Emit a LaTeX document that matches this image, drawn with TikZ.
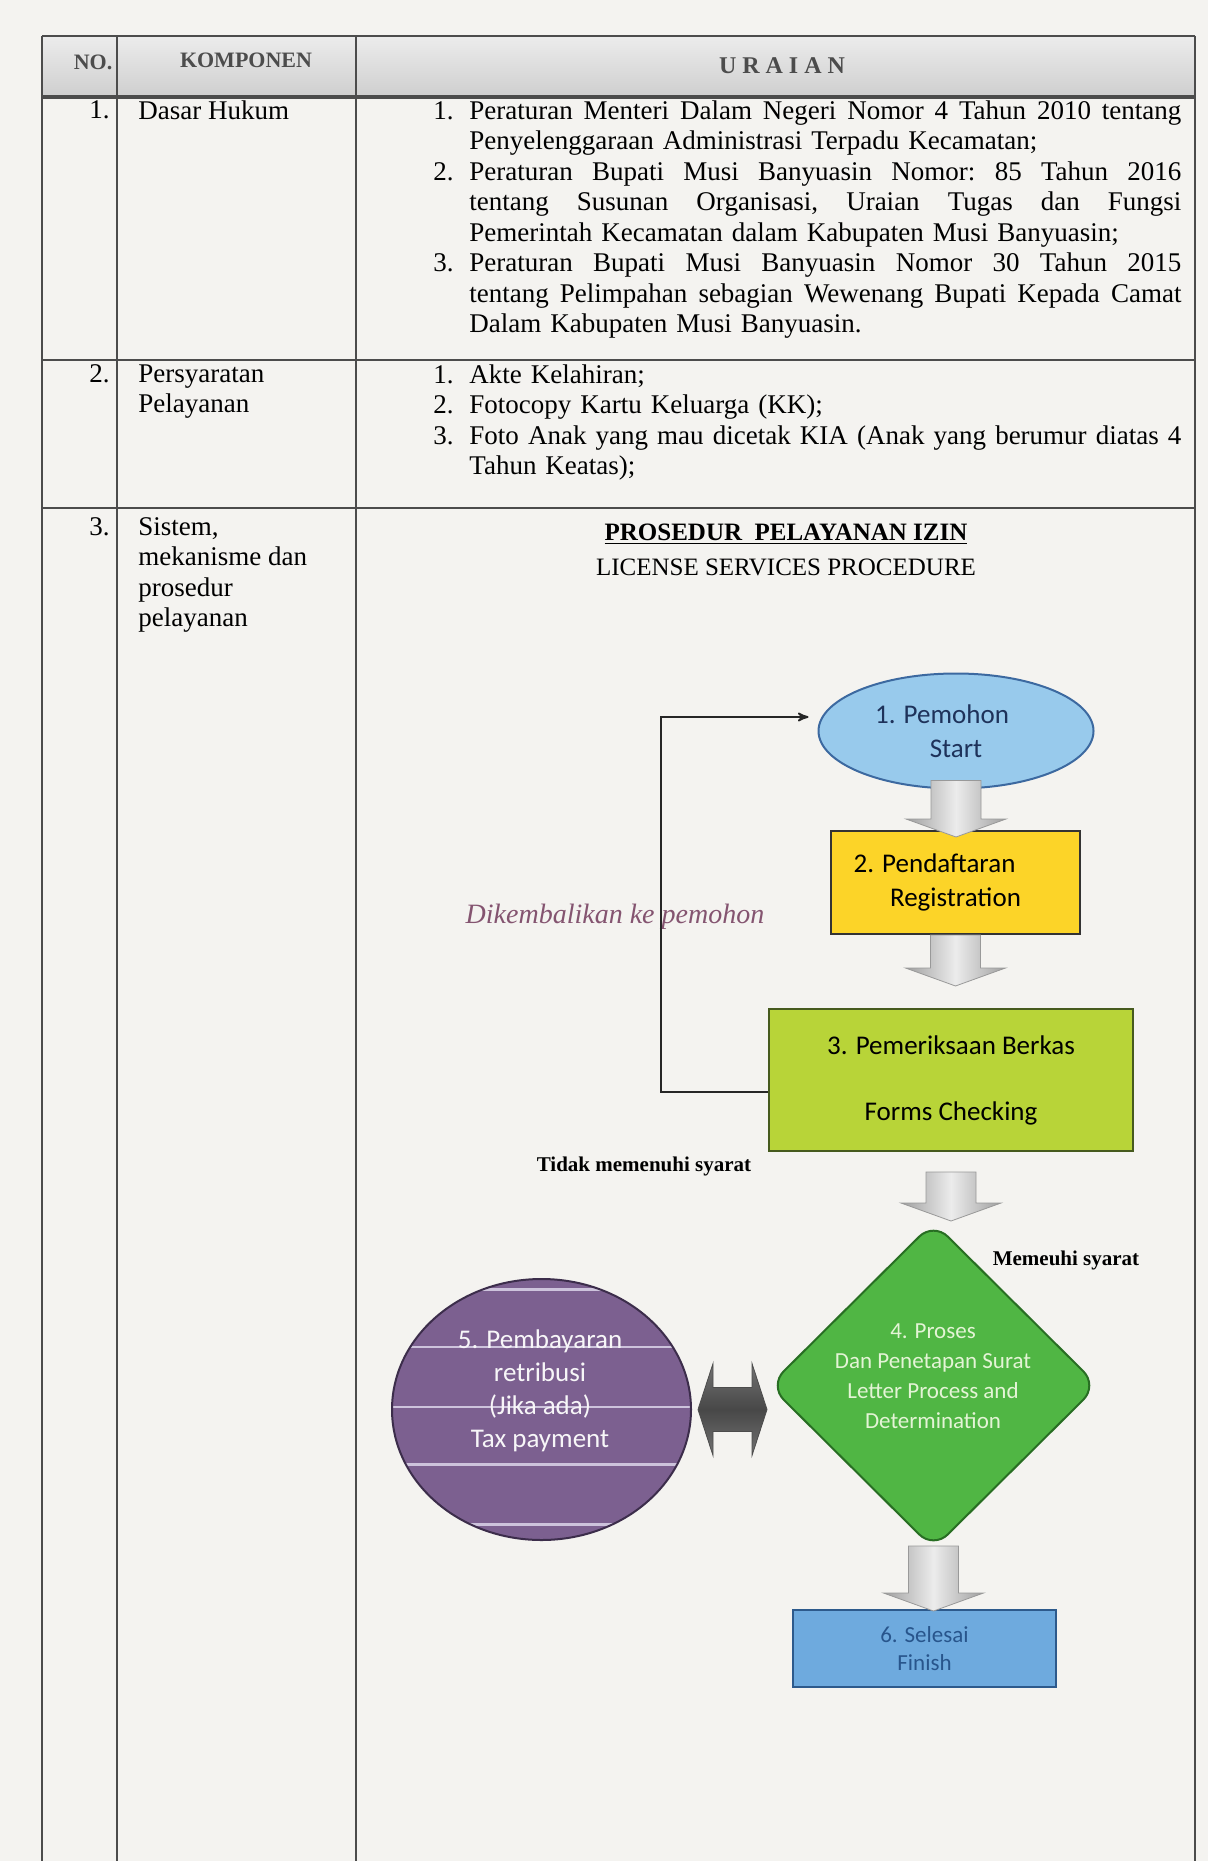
\documentclass[tikz,border=0pt]{standalone}
\usepackage{fontspec}
\setmainfont{Liberation Serif}
\newfontfamily\flowfont{Carlito}
\usetikzlibrary{calc}
\usetikzlibrary{arrows}
\usetikzlibrary{shapes.geometric}

\definecolor{paper}{RGB}{244,243,240}
\definecolor{startblue}{RGB}{152,202,236}
\definecolor{startline}{RGB}{60,105,160}
\definecolor{starttext}{RGB}{30,50,90}
\definecolor{regyellow}{RGB}{252,212,40}
\definecolor{checkgreen}{RGB}{184,212,56}
\definecolor{checkline}{RGB}{70,90,30}
\definecolor{procgreen}{RGB}{80,182,68}
\definecolor{procline}{RGB}{40,110,35}
\definecolor{proctext}{RGB}{228,244,214}
\definecolor{paypurple}{RGB}{124,96,144}
\definecolor{payline}{RGB}{60,45,75}
\definecolor{finblue}{RGB}{110,170,222}
\definecolor{finline}{RGB}{45,90,140}
\definecolor{fintext}{RGB}{40,85,140}
\definecolor{retmauve}{RGB}{132,84,112}

% wide grey arrow pointing down, from #1 to #2
\newcommand\flowarrow[2]{%
 \shade[grayarrow] let \p1=(#1), \p2=(#2) in
  (\x1-12.5pt,\y1) -- (\x1+12.5pt,\y1) -- (\x1+12.5pt,\y2+9pt) -- (\x1+25pt,\y2+9pt)
  -- (\x1,\y2) -- (\x1-25pt,\y2+9pt) -- (\x1-12.5pt,\y2+9pt) -- cycle;
}
% dark arrow with a head at both ends, from #1 to #2
\newcommand\swaparrow[2]{%
 \shade[darkarrow] let \p1=(#1), \p2=(#2) in
  (\x1,\y1) -- (\x1+7.5pt,\y1+23pt) -- (\x1+7.5pt,\y1+11pt) -- (\x2-7.5pt,\y1+11pt)
  -- (\x2-7.5pt,\y1+23pt) -- (\x2,\y1) -- (\x2-7.5pt,\y1-23pt) -- (\x2-7.5pt,\y1-11pt)
  -- (\x1+7.5pt,\y1-11pt) -- (\x1+7.5pt,\y1-23pt) -- cycle;
}
\newcommand\jline[2]{\noindent\makebox[18pt][l]{#1}\makebox[356pt][s]{\spaceskip=0pt\xspaceskip=0pt #2}\par}
\newcommand\rline[2]{\noindent\makebox[18pt][l]{#1}#2\par}

\begin{document}
\begin{tikzpicture}[x=0.5pt, y=-0.5pt,
 tblline/.style={draw=black!70, line width=0.9pt},
 cell/.style={inner sep=0pt, font=\fontsize{13.5}{15.25}\selectfont\frenchspacing, align=left},
 listcell/.style={cell, text width=374.5pt},
 hdr/.style={inner sep=0pt, font=\bfseries\fontsize{11}{13}\selectfont, text=black!70},
 flowtext/.style={font=\flowfont\fontsize{13.5}{17}\selectfont, align=center, inner sep=0pt},
 grayarrow/.style={draw=gray!80, line width=0.4pt, left color=gray!75, right color=gray!75, middle color=gray!15},
 darkarrow/.style={draw=black!70, line width=0.4pt, top color=black!55, bottom color=black!55, middle color=black!72},
 retline/.style={draw=black!85, line width=0.9pt, ->, >=stealth', shorten >=4.5pt},
 stripe/.style={draw={rgb,255:red,205;green,195;blue,220}, line width=1.2pt}]

\useasboundingbox (0,0) rectangle (1208,1861);
\fill[paper] (0,0) rectangle (1208,1861);

% table
\shade[top color=gray!15, bottom color=gray!38] (42,36) rectangle (1195,97);
\draw[tblline] (42,36) -- (1195,36);
\draw[black!70, line width=1.6pt] (42,97) -- (1195,97);
\foreach \x in {42,117,356,1195} {
 \draw[tblline] (\x,36) -- (\x,1861);
}
\foreach \y in {360,508} {
 \draw[tblline] (42,\y) -- (1195,\y);
}

\node[hdr] (hno) at (93,62) {NO.};
\node[hdr] (hkomp) at (246,60) {KOMPONEN};
\node[hdr, font=\bfseries\fontsize{12}{14}\selectfont] (hurai) at (782,66) {U R A I A N};

% row 1
\node[cell, anchor=north east] (no1) at (110,100) {1.};
\node[cell, anchor=north west] (dasar) at (138,100) {Dasar Hukum};
\node[listcell, anchor=north west] (hukum) at (433,100) {%
 \jline{1.}{Peraturan Menteri Dalam Negeri Nomor 4 Tahun 2010 tentang}
 \rline{}{Penyelenggaraan Administrasi Terpadu Kecamatan;}
 \jline{2.}{Peraturan Bupati Musi Banyuasin Nomor: 85 Tahun 2016}
 \jline{}{tentang Susunan Organisasi, Uraian Tugas dan Fungsi}
 \rline{}{Pemerintah Kecamatan dalam Kabupaten Musi Banyuasin;}
 \jline{3.}{Peraturan Bupati Musi Banyuasin Nomor 30 Tahun 2015}
 \jline{}{tentang Pelimpahan sebagian Wewenang Bupati Kepada Camat}
 \rline{}{Dalam Kabupaten Musi Banyuasin.}};

% row 2
\node[cell, anchor=north east] (no2) at (110,364) {2.};
\node[cell, anchor=north west] (syarat) at (138,364) {Persyaratan\\Pelayanan};
\node[listcell, anchor=north west] (berkas) at (433,364) {%
 \rline{1.}{Akte Kelahiran;}
 \rline{2.}{Fotocopy Kartu Keluarga (KK);}
 \jline{3.}{Foto Anak yang mau dicetak KIA (Anak yang berumur diatas 4}
 \rline{}{Tahun Keatas);}};

% row 3
\node[cell, anchor=north east] (no3) at (110,517) {3.};
\node[cell, anchor=north west] (sistem) at (138,517) {Sistem,\\mekanisme dan\\prosedur\\pelayanan};
\node[font=\bfseries\fontsize{12.5}{15}\selectfont] (ttl) at (786,534) {\underline{PROSEDUR\ \ PELAYANAN IZIN}};
\node[font=\fontsize{12.5}{15}\selectfont] (ttlen) at (786,567) {LICENSE SERVICES PROCEDURE};

% flow
\node[ellipse, fill=startblue, draw=startline, line width=1pt, minimum width=137.5pt, minimum height=57.5pt,
 flowtext, text=starttext] (start) at (956,731) {1. Pemohon\hspace*{14pt}\mbox{}\\Start};
\node[rectangle, fill=regyellow, draw=black!80, line width=1pt, minimum width=124.5pt, minimum height=51.5pt,
 flowtext] (reg) at (955.5,882.5) {2. Pendaftaran\hspace*{21pt}\mbox{}\\Registration};
\node[rectangle, fill=checkgreen, draw=checkline, line width=1pt, minimum width=182pt, minimum height=71pt,
 flowtext] (check) at (951,1080) {3. Pemeriksaan Berkas\\[16pt]Forms Checking};
\node[diamond, fill=procgreen, draw=procline, line width=1pt, rounded corners=10pt,
 minimum width=164.5pt, minimum height=163.5pt, inner sep=0pt] (proc) at (933.5,1385.5) {};
\node[flowtext, font=\flowfont\fontsize{11.5}{15}\selectfont, text=proctext] (proclbl) at (933,1376)
 {4. Proses\\Dan Penetapan Surat\\Letter Process and\\Determination};
\node[ellipse, fill=paypurple, draw=payline, line width=1pt, minimum width=149.5pt, minimum height=130.5pt, inner sep=0pt,
 path picture={
  \foreach \f in {0.04,0.26,0.49,0.71,0.94} {
   \draw[stripe] ($(path picture bounding box.north west)!\f!(path picture bounding box.south west)$) -- ++(160pt,0);
  }
 }] (pay) at (541.5,1409.5) {};
\node[flowtext, font=\flowfont\fontsize{13.5}{16.5}\selectfont, text=white!94!paypurple] (paylbl) at (540,1391)
 {5. Pembayaran\\retribusi\\(Jika ada)\\Tax payment};
\node[rectangle, fill=finblue, draw=finline, line width=1pt, minimum width=131.5pt, minimum height=38.5pt,
 flowtext, font=\flowfont\fontsize{11.5}{14.25}\selectfont, text=fintext] (finish) at (924.5,1648.5) {6. Selesai\\Finish};

\flowarrow{[yshift=4.5pt]start.south}{[yshift=-3.5pt]reg.north}
\flowarrow{reg.south}{[yshift=11pt]check.north}
\flowarrow{[yshift=-10pt]check.south}{proc.north}
\flowarrow{[yshift=2pt]proc.south}{[yshift=-1pt]finish.north}
\swaparrow{[xshift=3pt]pay.east}{[xshift=-0.5pt]proc.west}

% back to the applicant
\node[font=\itshape\fontsize{14}{16}\selectfont, text=retmauve] (retlbl) at (615,917) {Dikembalikan ke pemohon};
\coordinate (back) at (661,717);
\draw[retline] ([yshift=-6pt]check.west) -| (back) -- ([yshift=7pt]start.west);

\node[font=\bfseries\fontsize{10.5}{12}\selectfont] (tidak) at (644,1166) {Tidak memenuhi syarat};
\node[font=\bfseries\fontsize{10.5}{12}\selectfont] (memenuhi) at (1066,1260) {Memeuhi syarat};
\end{tikzpicture}
\end{document}
